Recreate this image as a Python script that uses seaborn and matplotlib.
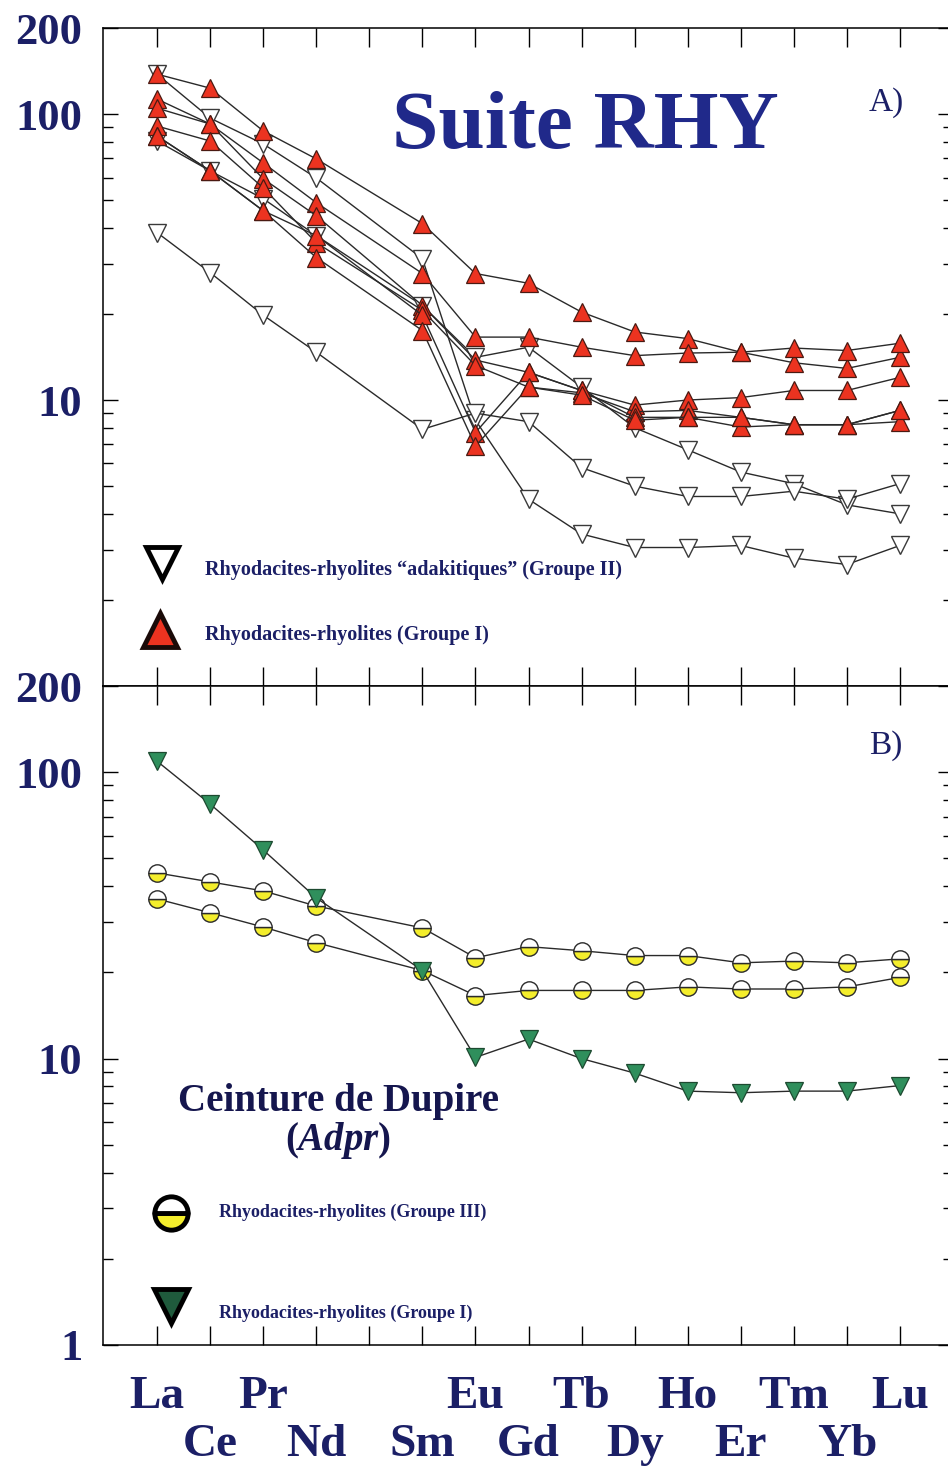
import matplotlib
matplotlib.use("Agg")
import matplotlib.pyplot as plt
from matplotlib.lines import Line2D
from matplotlib.ticker import FixedLocator, FixedFormatter, LogLocator, NullFormatter
import numpy as np
import pandas as pd
import seaborn as sns

# ---------------------------------------------------------------- data
elements = ["La", "Ce", "Pr", "Nd", "Pm", "Sm", "Eu", "Gd", "Tb", "Dy",
            "Ho", "Er", "Tm", "Yb", "Lu"]
ree = ["La", "Ce", "Pr", "Nd", "Sm", "Eu", "Gd", "Tb", "Dy",
       "Ho", "Er", "Tm", "Yb", "Lu"]

# Panel A - Groupe I (red triangles), chondrite-normalised
g1_a = [137.9, 123.2, 87.3, 69.7, 41.4, 27.7, 25.6, 20.3, 17.3, 16.4, 14.7, 13.5, 12.9, 14.1]
g1_b = [112.8, 92.3, 67.5, 49.0, 27.7, 16.6, 16.6, 15.3, 14.3, 14.6, 14.7, 15.2, 14.9, 15.8]
g1_c = [104.9, 92.3, 59.4, 44.1, 21.4, 13.8, 12.5, 10.8, 9.6, 10.0, 10.2, 10.8, 10.8, 12.0]
g1_d = [90.8, 80.5, 55.2, 35.5, 20.6, 13.2, 11.1, 10.6, 9.1, 9.2, 8.7, 8.2, 8.2, 9.2]
g1_e = [83.8, 63.3, 45.9, 37.6, 19.8, 7.7, 12.5, 10.8, 8.7, 8.7, 8.05, 8.2, 8.2, 8.4]
g1_f = [83.8, 63.3, 45.9, 31.5, 17.5, 6.9, 11.1, 10.4, 8.5, 8.7, 8.7, 8.2, 8.2, 9.2]

# Panel A - Groupe II "adakitiques" (open inverted triangles)
g2_a = [137.9, 96.8, 78.6, 59.8, 31.2, 8.5, 4.5, 3.4, 3.05, 3.05, 3.1, 2.8, 2.66, 3.1]
g2_b = [80.5, 63.3, 50.6, 37.6, 21.4, 14.1, 15.3, 11.1, 8.0, 6.7, 5.6, 5.1, 4.3, 4.0]
g2_c = [38.5, 27.9, 19.8, 14.7, 7.9, 9.0, 8.4, 5.8, 5.0, 4.6, 4.6, 4.8, 4.5, 5.1]

# Panel B - Ceinture de Dupire
adpr_g1 = [109.2, 77.4, 53.5, 36.4, 20.3, 10.1, 11.7, 10.0, 8.9, 7.7, 7.6, 7.7, 7.7, 8.05]
adpr_g3_a = [44.5, 41.4, 38.5, 34.1, 28.6, 22.5, 24.6, 23.8, 22.9, 22.9, 21.6, 21.9, 21.6, 22.3]
adpr_g3_b = [36.1, 32.3, 28.8, 25.4, 20.3, 16.6, 17.3, 17.3, 17.3, 17.8, 17.5, 17.5, 17.8, 19.2]

# element labels are staggered on two rows (Pm keeps its tick but no label)
upper_row = ["La", "Pr", "Pm", "Eu", "Tb", "Ho", "Tm", "Lu"]
lower_row = ["Ce", "Nd", "Sm", "Gd", "Dy", "Er", "Yb"]

# ---------------------------------------------------------------- style
sns.set_theme(style="ticks")
plt.rcParams["font.family"] = ["Liberation Serif", "DejaVu Serif"]
plt.rcParams["mathtext.fontset"] = "custom"
plt.rcParams["mathtext.rm"] = "Liberation Serif:bold"
plt.rcParams["mathtext.it"] = "Liberation Serif:italic:bold"
plt.rcParams["mathtext.bf"] = "Liberation Serif:bold"

NAVY = "#1b1f66"
TITLE_BLUE = "#20298a"
RED = "#ec3320"
GREEN = "#2f8f5c"
YELLOW = "#f4ee2c"
LINE = "#2a2a2a"

W, H = 948, 1476
fig = plt.figure(figsize=(W / 100, H / 100), dpi=100, facecolor="white")


def fx(px):
    return px / W


def fy(py):
    return 1 - py / H


left, right = 103, 953
ax_a = fig.add_axes([fx(left), fy(686), fx(right - left), (686 - 28) / H])
ax_b = fig.add_axes([fx(left), fy(1345), fx(right - left), (1345 - 686) / H])

pos = {el: i for i, el in enumerate(elements)}
xpos = [pos[e] for e in ree]

rows = []
for name, grp, panel, vals in [
    ("g2_a", "II", "A", g2_a), ("g2_b", "II", "A", g2_b), ("g2_c", "II", "A", g2_c),
    ("g1_a", "I", "A", g1_a), ("g1_b", "I", "A", g1_b), ("g1_c", "I", "A", g1_c),
    ("g1_d", "I", "A", g1_d), ("g1_e", "I", "A", g1_e), ("g1_f", "I", "A", g1_f),
    ("adpr_g3_a", "III", "B", adpr_g3_a), ("adpr_g3_b", "III", "B", adpr_g3_b),
    ("adpr_g1", "I", "B", adpr_g1),
]:
    for el, x, v in zip(ree, xpos, vals):
        rows.append(dict(sample=name, group=grp, panel=panel, element=el, x=x, value=v))
df = pd.DataFrame(rows)

for ax in (ax_a, ax_b):
    ax.set_yscale("log")
    ax.set_facecolor("white")

styles = {
    ("A", "II"): dict(marker="v", ms=12.5, mfc="white", mec="#3a3a3a", mew=1.0),
    ("A", "I"): dict(marker="^", ms=12.5, mfc=RED, mec="#4a1a12", mew=0.9),
    ("B", "III"): dict(marker="o", ms=12.5, mfc=YELLOW, mec="#2a2a2a", mew=1.0,
                       fillstyle="bottom", markerfacecoloralt="white"),
    ("B", "I"): dict(marker="v", ms=13, mfc=GREEN, mec="#1d4a30", mew=0.9),
}

for name, sub in df.groupby("sample", sort=False):
    panel = sub["panel"].iloc[0]
    grp = sub["group"].iloc[0]
    ax = ax_a if panel == "A" else ax_b
    sns.lineplot(data=sub, x="x", y="value", ax=ax, sort=False, estimator=None,
                 color=LINE, lw=1.0, legend=False, zorder=3, **styles[(panel, grp)])

# ---------------------------------------------------------------- axes
for ax, ylabels in ((ax_a, [10, 100, 200]), (ax_b, [1, 10, 100, 200])):
    ax.set_xlim(-1.02, 15.0)
    ax.set_ylim(1, 200)
    ax.set_xlabel("")
    ax.set_ylabel("")
    for sp in ax.spines.values():
        sp.set_visible(True)
        sp.set_color("black")
        sp.set_linewidth(1.1)
    ax.yaxis.set_major_locator(FixedLocator(ylabels))
    ax.yaxis.set_major_formatter(FixedFormatter([str(v) for v in ylabels]))
    ax.yaxis.set_minor_locator(LogLocator(base=10, subs=np.arange(2, 10)))
    ax.yaxis.set_minor_formatter(NullFormatter())
    # two staggered rows of element ticks: "major" row and "minor" row
    ax.xaxis.set_major_locator(FixedLocator([pos[e] for e in upper_row]))
    ax.xaxis.set_minor_locator(FixedLocator([pos[e] for e in lower_row]))
    ax.tick_params(which="both", direction="in", top=True, right=True,
                   bottom=True, left=True, color="black", width=1.0)
    ax.tick_params(axis="x", which="both", length=13.5)
    ax.tick_params(axis="y", which="major", length=11, pad=15,
                   labelsize=32, labelcolor=NAVY)
    ax.tick_params(axis="y", which="minor", length=7)
    for lab in ax.get_yticklabels():
        lab.set_fontweight("bold")
    ax.grid(False)

ax_a.tick_params(axis="x", which="both", labelbottom=False)
ax_b.xaxis.set_major_formatter(FixedFormatter(["" if e == "Pm" else e for e in upper_row]))
ax_b.xaxis.set_minor_formatter(FixedFormatter(lower_row))
ax_b.tick_params(axis="x", which="major", labelsize=34, labelcolor=NAVY, pad=22)
ax_b.tick_params(axis="x", which="minor", labelsize=34, labelcolor=NAVY, pad=57)
for lab in ax_b.get_xticklabels(which="both"):
    lab.set_fontweight("bold")

# ---------------------------------------------------------------- annotations
fig.text(fx(585), fy(148), "Suite RHY", ha="center", va="baseline",
         fontsize=60, fontweight="bold", color=TITLE_BLUE)
fig.text(fx(869), fy(111), "A)", ha="left", va="baseline", fontsize=24, color=NAVY)
fig.text(fx(869), fy(754), "B)", ha="left", va="baseline", fontsize=24, color=NAVY)
fig.text(fx(338), fy(1111), "Ceinture de Dupire", ha="center", va="baseline",
         fontsize=28, fontweight="bold", color="#15164e")
fig.text(fx(338), fy(1150), r"($\mathit{Adpr}$)", ha="center", va="baseline",
         fontsize=28, fontweight="bold", color="#15164e")


# legend keys
def key(x, y, **kw):
    fig.add_artist(Line2D([fx(x)], [fy(y)], transform=fig.transFigure, lw=0, **kw))


key(162, 563, marker="v", ms=23, mfc="white", mec="black", mew=3.5)
key(160, 630, marker="^", ms=24, mfc=RED, mec="#1a0a08", mew=3.5)
key(171, 1213, marker="o", ms=24, mfc=YELLOW, mec="black", mew=3.5,
    fillstyle="bottom", markerfacecoloralt="white")
key(171, 1306, marker="v", ms=25, mfc="#1f5a3c", mec="black", mew=3.5)

fig.text(fx(205), fy(575), "Rhyodacites-rhyolites \u201cadakitiques\u201d (Groupe II)",
         ha="left", va="baseline", fontsize=14.5, fontweight="bold", color=NAVY)
fig.text(fx(205), fy(640), "Rhyodacites-rhyolites (Groupe I)",
         ha="left", va="baseline", fontsize=14.5, fontweight="bold", color=NAVY)
fig.text(fx(219), fy(1217), "Rhyodacites-rhyolites (Groupe III)",
         ha="left", va="baseline", fontsize=13, fontweight="bold", color=NAVY)
fig.text(fx(219), fy(1318), "Rhyodacites-rhyolites (Groupe I)",
         ha="left", va="baseline", fontsize=13, fontweight="bold", color=NAVY)

fig.savefig("out.png", dpi=100, facecolor="white")
